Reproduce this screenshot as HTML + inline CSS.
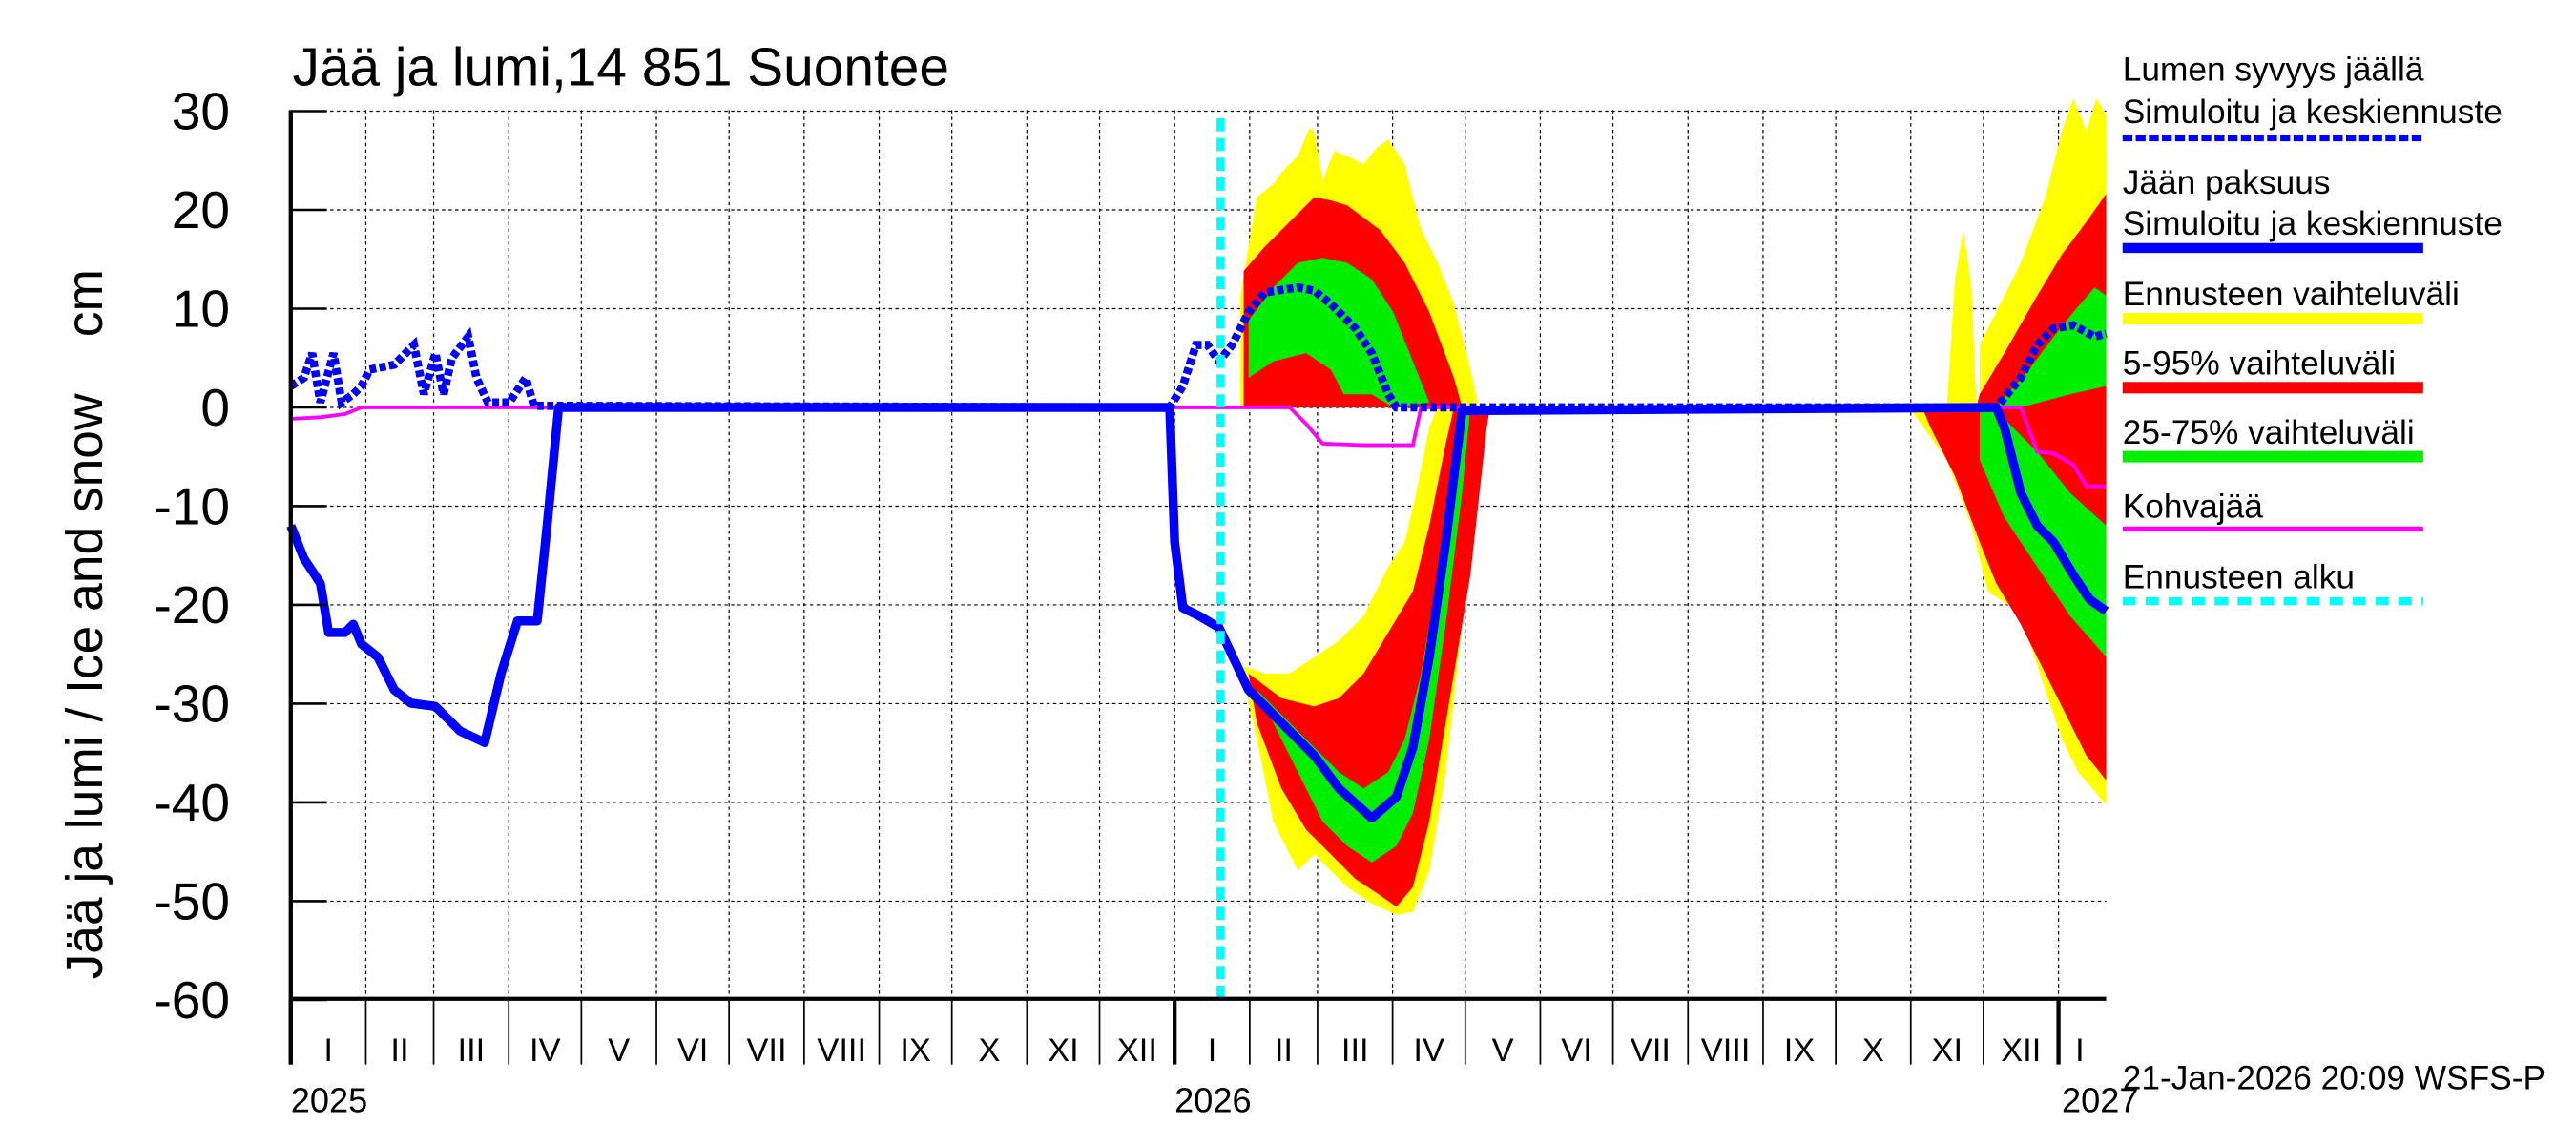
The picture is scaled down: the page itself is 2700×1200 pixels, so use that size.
<!DOCTYPE html>
<html><head><meta charset="utf-8"><style>html,body{margin:0;padding:0;background:#fff}svg{display:block}</style></head>
<body>
<svg id="s" width="2700" height="1200" viewBox="0 0 1568 697" preserveAspectRatio="none" xmlns="http://www.w3.org/2000/svg" font-family="Liberation Sans, sans-serif">
<rect width="1568" height="697" fill="#fff"/>
<g id="grid" stroke="#000" stroke-width="0.7" stroke-dasharray="2,2"></g>
<g id="bands">
<polygon fill="#ffff00" points="755,248 755,180 765,120 775,112 780,105 790,95 797,78 800,80 805,110 812,92 820,95 830,100 838,90 845,85 855,100 865,140 875,160 885,185 895,225 900,248"/>
<polygon fill="#ff0000" points="757,248 757,165 770,150 790,130 800,120 810,122 820,125 840,140 855,160 870,190 885,230 890,248"/>
<polygon fill="#00ee00" points="760,195 775,175 790,160 805,157 820,160 835,170 848,190 860,220 870,245 848,248 835,240 818,240 810,225 795,215 775,220 760,230"/>
<polygon fill="#ffff00" points="755,405 770,410 785,410 800,400 815,390 830,375 845,345 855,330 862,300 870,260 875,248 905,248 900,300 890,380 880,470 870,530 860,555 850,557 835,550 820,540 810,530 800,520 790,530 775,500 765,450"/>
<polygon fill="#ff0000" points="760,410 780,425 800,430 815,425 830,410 845,385 860,360 870,320 880,270 885,248 907,248 905,260 895,350 880,440 870,500 860,540 850,552 840,545 825,535 810,520 795,505 780,480 765,440"/>
<polygon fill="#00ee00" points="765,420 785,440 800,455 815,470 830,480 845,470 855,450 865,410 875,350 885,280 890,248 895,248 890,300 880,380 870,450 860,495 850,515 835,525 820,515 805,500 790,470 770,430"/>
<polygon fill="#ffff00" points="1185,248 1190,170 1195,140 1200,175 1203,248"/>
<polygon fill="#ffff00" points="1205,248 1205,210 1215,190 1230,160 1245,120 1255,80 1262,60 1270,80 1276,60 1282,70 1282,248"/>
<polygon fill="#ff0000" points="1203,248 1205,240 1220,215 1240,180 1255,155 1270,135 1282,118 1282,248"/>
<polygon fill="#00ee00" points="1215,248 1235,225 1250,205 1262,190 1275,175 1282,180 1282,235 1260,240 1230,248"/>
<polygon fill="#ffff00" points="1160,248 1282,248 1282,490 1265,470 1255,450 1245,420 1235,390 1225,370 1210,360 1200,320 1185,280 1165,252"/>
<polygon fill="#ff0000" points="1170,248 1282,248 1282,475 1270,460 1260,440 1245,410 1230,380 1215,355 1205,330 1190,290 1175,260"/>
<polygon fill="#00ee00" points="1205,250 1215,250 1240,275 1260,300 1282,320 1282,400 1260,375 1240,345 1220,315 1205,280"/>
</g>
<polyline fill="none" stroke="#ff00ff" stroke-width="2.2" points="177,255 195,254 210,252 220,248 785,248 795,258 805,270 830,271 860,271 865,248 1230,248 1240,275 1250,276 1262,283 1270,296 1282,296"/>
<polyline fill="none" stroke="#0000ff" stroke-width="5.5" stroke-linejoin="round" points="177,320 185,340 195,355 200,385 210,385 215,380 220,392 230,400 240,420 250,428 265,430 280,445 295,452 305,410 315,378 327,378 333,320 340,248 712,248 715,330 720,370 730,375 742,382 760,420 780,440 800,460 815,480 835,498 850,485 860,455 870,400 880,330 890,250 1215,248 1220,260 1230,300 1240,320 1250,330 1262,350 1272,365 1282,372"/>
<polyline fill="none" stroke="#0000ff" stroke-width="5" stroke-dasharray="4,2" points="177,235 185,230 190,215 195,245 203,215 208,245 215,240 220,235 225,225 240,222 252,210 258,240 265,215 270,240 275,218 285,205 290,230 297,245 310,245 320,230 325,247 712,248 720,235 728,210 735,210 742,220 750,210 760,190 770,178 790,175 800,177 810,185 825,200 835,215 845,240 850,248 1215,248 1230,230 1240,210 1250,200 1262,198 1275,205 1282,203"/>
<line x1="743" y1="72" x2="743" y2="608" stroke="#00ffff" stroke-width="5" stroke-dasharray="8,4"/>
<g id="axes" stroke="#000"></g>
<g id="txt" fill="#000"></g>
<text x="178" y="52" font-size="33">Jää ja lumi,14 851 Suontee</text>
<text transform="translate(62,380) rotate(-90)" font-size="31" text-anchor="middle" xml:space="preserve">Jää ja lumi / Ice and snow    cm</text>
<g font-size="20.5">
<text x="1292" y="49">Lumen syvyys jäällä</text>
<text x="1292" y="75">Simuloitu ja keskiennuste</text>
<line x1="1292" y1="84" x2="1475" y2="84" stroke="#0000ff" stroke-width="4" stroke-dasharray="6,2"/>
<text x="1292" y="118">Jään paksuus</text>
<text x="1292" y="143">Simuloitu ja keskiennuste</text>
<line x1="1292" y1="151" x2="1475" y2="151" stroke="#0000ff" stroke-width="6"/>
<text x="1292" y="186">Ennusteen vaihteluväli</text>
<line x1="1292" y1="194" x2="1475" y2="194" stroke="#ffff00" stroke-width="7"/>
<text x="1292" y="228">5-95% vaihteluväli</text>
<line x1="1292" y1="236" x2="1475" y2="236" stroke="#ff0000" stroke-width="7"/>
<text x="1292" y="270">25-75% vaihteluväli</text>
<line x1="1292" y1="278" x2="1475" y2="278" stroke="#00ee00" stroke-width="7"/>
<text x="1292" y="315">Kohvajää</text>
<line x1="1292" y1="322" x2="1475" y2="322" stroke="#ff00ff" stroke-width="3"/>
<text x="1292" y="358">Ennusteen alku</text>
<line x1="1292" y1="366" x2="1475" y2="366" stroke="#00ffff" stroke-width="5" stroke-dasharray="8,6"/>
<text x="1292" y="663">21-Jan-2026 20:09 WSFS-P</text>
</g>
</svg>
<script>
(function(){
var NS="http://www.w3.org/2000/svg";
function el(p,t,a,txt){var e=document.createElementNS(NS,t);for(var k in a)e.setAttribute(k,a[k]);if(txt!=null)e.textContent=txt;document.getElementById(p).appendChild(e);return e;}
var L=177,R=1282,T=67,B=608;
function X(d){return 177+d*538/365;}
function Y(v){return 248-v*6.011;}
var md=[0,31,59,90,120,151,181,212,243,273,304,334];
var rom=["I","II","III","IV","V","VI","VII","VIII","IX","X","XI","XII"];
var bounds=[];
for(var y=0;y<3;y++)for(var m=0;m<12;m++)bounds.push({d:y*365+md[m],m:m});
for(var i=0;i<bounds.length;i++){
 var x=X(bounds[i].d); if(x>R+1)break;
 if(x>L+1) el("grid","line",{x1:x,y1:T,x2:x,y2:B});
 el("axes","line",{x1:x,y1:B,x2:x,y2:B+40,"stroke-width":bounds[i].m==0?2.5:1});
 var nx=i+1<bounds.length?X(bounds[i+1].d):R+30;
 var cx=(x+Math.min(nx,R+30))/2; if(nx>R) cx=x+13;
 el("txt","text",{x:cx,y:646,"font-size":20,"text-anchor":"middle"},rom[bounds[i].m]);
}
for(var v=-50;v<=30;v+=10){el("grid","line",{x1:L,y1:Y(v),x2:R,y2:Y(v)});}
for(var v=-60;v<=30;v+=10){
 el("axes","line",{x1:L,y1:Y(v),x2:L+22,y2:Y(v),"stroke-width":1.5});
 el("txt","text",{x:140,y:Y(v)+11,"font-size":32,"text-anchor":"end"},String(v));
}
el("axes","line",{x1:L,y1:T,x2:L,y2:B+40,"stroke-width":2.5});
el("axes","line",{x1:L,y1:B,x2:R,y2:B,"stroke-width":2.5});
el("txt","text",{x:177,y:677,"font-size":21},"2025");
el("txt","text",{x:715,y:677,"font-size":21},"2026");
el("txt","text",{x:1255,y:677,"font-size":21},"2027");
})();
</script>
</body></html>
